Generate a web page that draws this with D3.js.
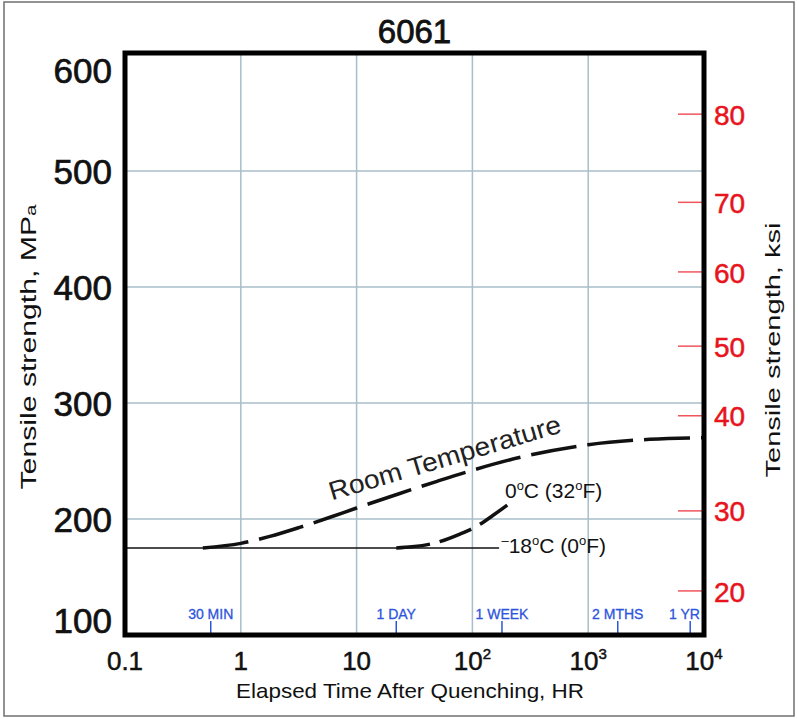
<!DOCTYPE html>
<html>
<head>
<meta charset="utf-8">
<script src="https://cdn.jsdelivr.net/npm/d3@7"></script>
<style>
  body { margin: 0; background: #fff; }
  svg { display: block; font-family: "Liberation Sans", Arial, sans-serif; }
</style>
</head>
<body>
<svg width="798" height="719"></svg>
<script>
// data
const mpaTicks = [100, 200, 300, 400, 500, 600];
const gridMpa = [200, 300, 400, 500];
const timeTicks = [0.1, 1, 10, 100, 1000, 10000];
const timeTickBase = ["0.1", "1", "10", "10", "10", "10"];
const timeTickExp = ["", "", "", "2", "3", "4"];
const gridTimes = [1, 10, 100, 1000];

const ksiTicks = [20, 30, 40, 50, 60, 70, 80];
// where each ksi tick sits against the MPa scale (as drawn in the original)
const ksiTickMpa = [138, 207, 289, 349, 413, 473, 549];

const markTimes = [0.55, 22, 180, 1800, 7600];
const markLabels = ["30 MIN", "1 DAY", "1 WEEK", "2 MTHS", "1 YR"];

const roomTemp = [
  [0.47, 175], [1, 179], [1.78, 185], [3.27, 193], [5.9, 201.5], [10, 209.5],
  [23.6, 222], [49.5, 232.5], [100, 242], [254, 253], [1000, 264],
  [3400, 268.7], [10000, 270]
];
const zeroC = [[22, 175], [30, 176], [46, 179], [78, 187], [110, 194], [150, 203], [200, 212]];
const minus18C = [[0.1, 175], [170, 175]];

let width = 798;
let height = 719;
let pLeft = 125, pRight = 704, pTop = 55, pBottom = 635;

let svg = d3.select("svg");

// outer border
svg.append("rect")
  .attr("x", 4).attr("y", 2)
  .attr("width", width - 8).attr("height", height - 5)
  .attr("fill", "none").attr("stroke", "#6f6f6f").attr("stroke-width", 1.5);

let x = d3.scaleLog().domain([0.1, 10000]).range([pLeft, pRight]);
let y = d3.scaleLinear().domain([100, 600]).range([pBottom, pTop]);
let ksi = d3.scaleLinear().domain(ksiTicks).range(ksiTickMpa.map((d) => y(d)));

// grid
svg.append("g").selectAll("line").data(gridTimes).enter().append("line")
  .attr("x1", (d) => x(d)).attr("x2", (d) => x(d))
  .attr("y1", pTop).attr("y2", pBottom)
  .attr("stroke", "#a9bec8").attr("stroke-width", 1.5);
svg.append("g").selectAll("line").data(gridMpa).enter().append("line")
  .attr("x1", pLeft).attr("x2", pRight)
  .attr("y1", (d) => y(d)).attr("y2", (d) => y(d))
  .attr("stroke", "#a9bec8").attr("stroke-width", 1.5);

// red ksi ticks inside the frame
svg.append("g").selectAll("line").data(ksiTicks).enter().append("line")
  .attr("x1", pRight - 26).attr("x2", pRight)
  .attr("y1", (d) => ksi(d)).attr("y2", (d) => ksi(d))
  .attr("stroke", "#f0555c").attr("stroke-width", 1.5);

// blue time markers
svg.append("g").selectAll("line").data(markTimes).enter().append("line")
  .attr("x1", (d) => x(d)).attr("x2", (d) => x(d))
  .attr("y1", pBottom - 14).attr("y2", pBottom - 2)
  .attr("stroke", "#2d55dc").attr("stroke-width", 1.5);
svg.append("g").selectAll("text").data(markTimes).enter().append("text")
  .attr("x", (d, i) => Math.min(x(d), pRight - 4 - markLabels[i].length * 3.9))
  .attr("y", pBottom - 16)
  .attr("text-anchor", "middle")
  .attr("font-size", 14)
  .attr("fill", "#2d55dc").attr("stroke", "#2d55dc").attr("stroke-width", 0.3)
  .text((d, i) => markLabels[i]);

// curves
let line = d3.line().x((d) => x(d[0])).y((d) => y(d[1])).curve(d3.curveMonotoneX);

svg.append("path").datum(minus18C)
  .attr("d", line).attr("fill", "none")
  .attr("stroke", "#111").attr("stroke-width", 1.5);

svg.append("path").datum(roomTemp)
  .attr("d", line).attr("fill", "none")
  .attr("stroke", "#111").attr("stroke-width", 3.5)
  .attr("stroke-dasharray", "46,11");

svg.append("path").datum(zeroC)
  .attr("d", line).attr("fill", "none")
  .attr("stroke", "#111").attr("stroke-width", 3.5)
  .attr("stroke-dasharray", "34,10");

// curve labels
let rtPos = [6.1, 216];
svg.append("text")
  .attr("transform", "translate(" + x(rtPos[0]) + "," + y(rtPos[1]) + ") rotate(-16.5)")
  .attr("font-size", 26)
  .attr("fill", "#222")
  .attr("textLength", 241).attr("lengthAdjust", "spacingAndGlyphs")
  .text("Room Temperature");

let zPos = [191, 218];
let zt = svg.append("text")
  .attr("x", x(zPos[0])).attr("y", y(zPos[1]))
  .attr("font-size", 21).attr("fill", "#111");
zt.append("tspan").text("0");
zt.append("tspan").attr("font-size", 13).attr("dy", -8).text("o");
zt.append("tspan").attr("dy", 8).text("C (32");
zt.append("tspan").attr("font-size", 13).attr("dy", -8).text("o");
zt.append("tspan").attr("dy", 8).text("F)");

let mPos = [178, 170.7];
let mt = svg.append("text")
  .attr("x", x(mPos[0])).attr("y", y(mPos[1]))
  .attr("font-size", 21).attr("fill", "#111");
mt.append("tspan").attr("font-size", 13).attr("dy", -8).text("\u2013");
mt.append("tspan").attr("dy", 8).text("18");
mt.append("tspan").attr("font-size", 13).attr("dy", -8).text("o");
mt.append("tspan").attr("dy", 8).text("C (0");
mt.append("tspan").attr("font-size", 13).attr("dy", -8).text("o");
mt.append("tspan").attr("dy", 8).text("F)");

// frame
svg.append("rect")
  .attr("x", pLeft).attr("y", pTop - 2)
  .attr("width", pRight - pLeft).attr("height", pBottom - pTop + 2)
  .attr("fill", "none").attr("stroke", "#000").attr("stroke-width", 5);

// left axis (MPa)
let yAxis = svg.append("g")
  .attr("transform", "translate(" + (pLeft - 13) + ",0)")
  .call(d3.axisLeft(y).tickValues(mpaTicks).tickSize(0).tickPadding(0));
yAxis.select(".domain").remove();
yAxis.selectAll("text")
  .attr("font-family", "Liberation Sans, Arial, sans-serif")
  .attr("font-size", 35)
  .attr("fill", "#111").attr("stroke", "#111").attr("stroke-width", 0.7)
  .attr("dy", (d) => d === 600 ? "0.79em" : d === 100 ? "-0.07em" : "0.36em");

// right axis (ksi)
let rAxis = svg.append("g")
  .attr("transform", "translate(" + (pRight + 10) + ",0)")
  .call(d3.axisRight(ksi).tickValues(ksiTicks).tickSize(0).tickPadding(0));
rAxis.select(".domain").remove();
rAxis.selectAll("text")
  .attr("font-family", "Liberation Sans, Arial, sans-serif")
  .attr("font-size", 28)
  .attr("fill", "#e8141c").attr("stroke", "#e8141c").attr("stroke-width", 0.5)
  .attr("dy", "0.36em");

// bottom tick labels
let xt = svg.append("g").selectAll("text").data(timeTicks).enter().append("text")
  .attr("x", (d) => x(d)).attr("y", pBottom + 35)
  .attr("text-anchor", "middle")
  .attr("font-size", 26)
  .attr("fill", "#111").attr("stroke", "#111").attr("stroke-width", 0.5);
xt.append("tspan").text((d, i) => timeTickBase[i]);
xt.append("tspan").attr("font-size", 15).attr("dy", -11).text((d, i) => timeTickExp[i]);

// titles
svg.append("text")
  .attr("x", (pLeft + pRight) / 2).attr("y", 43)
  .attr("text-anchor", "middle")
  .attr("font-size", 33)
  .attr("fill", "#111").attr("stroke", "#111").attr("stroke-width", 0.8)
  .text("6061");

svg.append("text")
  .attr("x", 410).attr("y", 698)
  .attr("text-anchor", "middle")
  .attr("font-size", 21).attr("fill", "#111")
  .attr("textLength", 348).attr("lengthAdjust", "spacingAndGlyphs")
  .text("Elapsed Time After Quenching, HR");

let yl = svg.append("text")
  .attr("transform", "translate(36,347) rotate(-90)")
  .attr("text-anchor", "middle")
  .attr("font-size", 22).attr("fill", "#111")
  .attr("textLength", 285).attr("lengthAdjust", "spacingAndGlyphs");
yl.append("tspan").text("Tensile strength, MP");
yl.append("tspan").attr("font-size", 15).text("a");

svg.append("text")
  .attr("transform", "translate(780,350) rotate(-90)")
  .attr("text-anchor", "middle")
  .attr("font-size", 21).attr("fill", "#111")
  .attr("textLength", 255).attr("lengthAdjust", "spacingAndGlyphs")
  .text("Tensile strength, ksi");
</script>
</body>
</html>
